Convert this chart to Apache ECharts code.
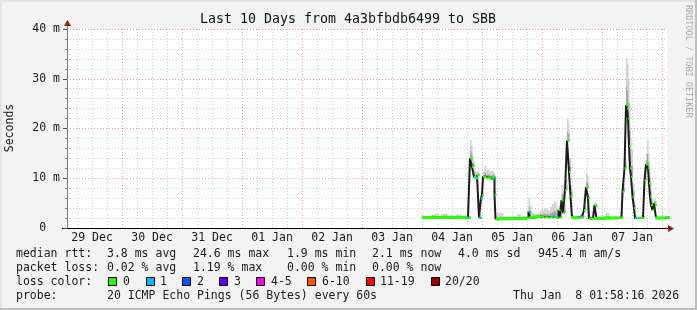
<!DOCTYPE html>
<html><head><meta charset="utf-8">
<script src="https://cdn.jsdelivr.net/npm/echarts@6/dist/echarts.min.js"></script>
<style>html,body{margin:0;padding:0;background:#f3f3f3;overflow:hidden}#c{width:697px;height:310px}</style>
</head><body><div id="c"></div>
<script>
// ---------- data ----------
const chartTitle = 'Last 10 Days from 4a3bfbdb6499 to SBB';
const yAxisName = 'Seconds';
const watermark = 'RRDTOOL / TOBI OETIKER';
const dayLabels = ['29 Dec','30 Dec','31 Dec','01 Jan','02 Jan','03 Jan','04 Jan','05 Jan','06 Jan','07 Jan'];
const windowStart = 1.9711;   // hours after 29 Dec 00:00 (01:58:16)
const windowHours = 240;      // 10 days
const yMax = 40;              // ms

// sample times (hours after 29 Dec 00:00)
const times = [
 144.37,145.57,146.77,147.97,149.17,150.37,151.57,152.77,153.97,155.17,156.37,157.57,158.77,159.97,161.17,162.37,162.77,
 163.17,163.57,163.97,164.37,164.77,165.17,165.57,165.97,166.37,166.77,167.17,167.57,167.97,168.37,168.97,169.57,170.17,170.77,171.37,171.97,172.57,172.97,173.37,
 173.97,175.17,176.37,177.57,178.77,179.97,181.17,181.97,183.17,184.37,185.57,186.17,186.57,186.97,187.57,188.77,189.97,
 191.17,191.97,192.77,193.57,194.37,195.17,195.97,196.77,197.57,198.17,198.57,199.17,199.77,200.37,201.17,201.97,202.37,202.77,203.37,203.97,
 205.17,206.37,207.17,207.97,208.77,209.57,209.97,210.37,210.77,211.57,212.37,212.97,213.37,213.77,
 215.17,216.37,217.57,218.77,219.97,221.17,222.37,223.17,223.77,224.17,224.97,225.57,225.97,226.37,226.77,227.17,227.57,228.17,228.77,229.17,
 229.97,230.77,231.57,232.37,232.97,233.57,233.97,234.37,234.77,235.17,235.57,236.17,236.77,237.17,237.57,238.77,239.97,241.17,241.97
];
// median rtt (ms)
const median = [
 2.1,2.1,2.1,2.2,2.1,2.1,2.1,2.2,2.1,2.1,2.1,2.1,2.2,2.1,2.1,2.0,2.1,
 14.0,14.0,12.3,12.5,10.3,10.0,10.0,10.6,10.6,2.1,2.0,6.0,6.6,10.3,10.3,10.0,10.2,10.0,9.9,10.2,10.3,6.6,1.8,
 1.8,1.8,1.9,1.9,1.9,1.9,1.9,1.9,1.9,1.9,2.0,2.0,3.3,2.3,2.1,2.2,2.3,
 2.3,2.2,2.1,2.2,2.1,2.2,2.1,2.2,2.2,2.0,3.6,2.1,5.6,3.0,7.6,17.6,17.6,11.3,6.4,2.1,
 2.1,2.1,2.2,2.1,3.6,8.2,8.2,6.0,1.9,1.9,1.9,4.6,4.4,1.9,
 1.9,2.0,2.0,2.0,2.0,2.0,2.0,2.1,2.1,7.3,12.0,24.7,24.0,22.0,16.5,12.0,10.3,6.3,4.0,2.0,
 2.0,2.0,2.0,2.0,9.6,12.8,13.0,12.0,9.0,6.3,4.6,3.6,5.0,4.6,2.0,2.0,2.0,2.1,2.1
];
// top of the ping "smoke" (ms)
const smokeHigh = [
 2.3,2.4,2.5,2.6,2.9,2.4,2.8,2.9,2.5,2.6,2.5,2.7,2.5,2.4,2.5,2.4,2.4,
 17.7,16.5,14.5,13.5,12.0,11.5,11.2,11.5,11.3,2.8,2.4,7.0,7.2,11.3,12.5,11.5,11.7,11.3,11.5,11.4,11.0,7.5,2.5,
 3.0,3.0,2.4,2.3,2.3,2.4,2.3,2.8,2.3,2.4,2.4,2.5,6.0,4.5,3.0,2.8,3.0,
 3.5,3.6,4.0,3.8,3.5,4.2,4.8,5.3,4.0,3.0,4.5,3.0,8.6,5.0,10.0,22.0,21.0,14.0,8.5,2.6,
 2.4,2.4,2.8,2.4,4.5,11.0,10.5,7.0,2.4,2.5,2.3,5.2,5.0,2.3,
 2.2,2.3,3.0,2.3,2.3,2.4,2.3,2.5,2.6,9.0,14.0,34.1,33.0,30.0,24.0,18.0,15.7,9.0,5.5,2.5,
 2.3,2.3,2.3,2.3,12.0,15.0,17.7,15.0,12.0,9.0,6.0,4.5,6.0,5.5,2.4,2.3,2.3,2.3,2.3
];
// samples with 1 lost ping
const loss1Times  = [162.25,165.97,167.17,167.85,172.65,187.29,196.09,197.17,207.17,229.57];
const loss1Values = [2.0,10.2,2.0,5.9,9.8,3.2,2.3,2.3,2.2,2.0];

const rttLabel = 'median rtt:';
const rttStats = ['3.8 ms avg','24.6 ms max','1.9 ms min','2.1 ms now','4.0 ms sd','945.4 m am/s'];
const lossLabel = 'packet loss:';
const lossStats = ['0.02 % avg','1.19 % max','0.00 % min','0.00 % now'];
const lossColorLabel = 'loss color:';
const lossLabels = ['0','1','2','3','4-5','6-10','11-19','20/20'];
const lossColors = ['#26ff00','#00b8ff','#0059ff','#5e00ff','#ff00ff','#ff5500','#ff0000','#a10000'];
const probeLabel = 'probe:';
const probeText = '20 ICMP Echo Pings (56 Bytes) every 60s';
const stampText = 'Thu Jan  8 01:58:16 2026';

// ---------- layout / style ----------
const MONO = '"DejaVu Sans Mono", monospace';
const F = 11.5;
const XMIN = windowStart, XMAX = windowStart + windowHours;
const PX_PER_HOUR = 600 / windowHours;
const minorGrid = {color:'#d0d0d0', type:[1,2], width:1};
const majorGrid = {color:'#eaa0a0', type:[1,2], width:1};
const statCols = [107,193,287,372,458,538];
const boxCols = [108,146,182,219,256,307,366,431];
const boxLabelCols = [123,160,197,234,271,322,380,445];
const rowY = [254,268,282,296];

// clock-aligned tick positions (hours after 29 Dec 00:00)
const sixHourTicks = [], midnightTicks = [];
for (let h = Math.ceil(XMIN/6)*6; h < XMAX; h += 6) sixHourTicks.push(h);
for (let h = Math.ceil(XMIN/24)*24; h < XMAX; h += 24) midnightTicks.push(h);
const noonTicks = dayLabels.map((d,i)=>12 + 24*i);

function txt(text, x, y, extra) {
  return Object.assign({type:'text', x:x, y:y, silent:true,
    style:Object.assign({text:text, font:F+'px '+MONO, fill:'#1a1a1a',
      align:'left', textAlign:'left', verticalAlign:'middle', textVerticalAlign:'middle'}, extra && extra.style || {})},
    extra && extra.el || {});
}

const graphics = [];
graphics.push({type:'rect', shape:{x:0,y:0,width:697,height:2}, style:{fill:'#e4e4e4'}, silent:true});
graphics.push({type:'rect', shape:{x:0,y:0,width:2,height:310}, style:{fill:'#e4e4e4'}, silent:true});
graphics.push({type:'rect', shape:{x:0,y:308,width:697,height:2}, style:{fill:'#bdbdbd'}, silent:true});
graphics.push({type:'rect', shape:{x:695,y:0,width:2,height:310}, style:{fill:'#bdbdbd'}, silent:true});
graphics.push({type:'line', shape:{x1:67.5,y1:25,x2:67.5,y2:29}, style:{stroke:'#7a7a7a', lineWidth:1}, silent:true});
graphics.push({type:'polygon', shape:{points:[[64,26],[71,26],[67.5,20]]}, style:{fill:'#8e1e1e'}, silent:true});
graphics.push({type:'line', shape:{x1:62,y1:228.5,x2:669,y2:228.5}, style:{stroke:'#000', lineWidth:1}, silent:true});
graphics.push({type:'polygon', shape:{points:[[668,225],[668,232],[674,228.5]]}, style:{fill:'#8e1e1e'}, silent:true});
graphics.push(txt(chartTitle, 348, 19.5, {style:{font:'13.3px '+MONO, align:'center', textAlign:'center', fill:'#111'}}));
graphics.push(txt(yAxisName, 10, 128, {style:{align:'center', textAlign:'center'}, el:{rotation:Math.PI/2}}));
graphics.push(txt(watermark, 688.5, 5, {style:{font:'8.5px '+MONO, fill:'#a8a8a8'}, el:{rotation:-Math.PI/2}}));
graphics.push(txt(rttLabel, 16, rowY[0]));
rttStats.forEach((s,i)=>graphics.push(txt(s, statCols[i], rowY[0])));
graphics.push(txt(lossLabel, 16, rowY[1]));
lossStats.forEach((s,i)=>graphics.push(txt(s, statCols[i], rowY[1])));
graphics.push(txt(lossColorLabel, 16, rowY[2]));
lossLabels.forEach((s,i)=>{
  graphics.push({type:'rect', shape:{x:boxCols[i]+0.5, y:rowY[2]-4.5, width:8, height:8}, style:{fill:lossColors[i], stroke:'#000', lineWidth:1}, silent:true});
  graphics.push(txt(s, boxLabelCols[i], rowY[2]));
});
graphics.push(txt(probeLabel, 16, rowY[3]));
graphics.push(txt(probeText, statCols[0], rowY[3]));
graphics.push(txt(stampText, 513, rowY[3]));

const medPts = times.map((t,i)=>[t, median[i]]);
const smokeCells = times.slice(0,-1).map((t,i)=>[t, times[i+1], median[i], smokeHigh[i]]);
const loss1Pts = loss1Times.map((t,i)=>[t, loss1Values[i]]);

function renderSmoke(params, api) {
  const t0 = api.value(0), t1 = api.value(1), lo = api.value(2), hi = api.value(3);
  const a = api.coord([t0, hi]), b = api.coord([t1, lo]);
  const m = api.coord([t0, lo + (hi - lo) * 0.4]);
  const w = b[0] - a[0] + 0.6;
  return {type:'group', children:[
    {type:'rect', shape:{x:a[0], y:a[1], width:w, height:m[1]-a[1]}, style:{fill:'#d3d3d3'}},
    {type:'rect', shape:{x:a[0], y:m[1], width:w, height:b[1]-m[1]}, style:{fill:'#a6a6a6'}}
  ]};
}
// green median marks: as wide as the gap to the next sample
function medSymbolSize(val, params) {
  const i = params.dataIndex;
  const gap = i < times.length - 1 ? (times[i+1] - times[i]) * PX_PER_HOUR : 3;
  return gap >= 2.5 ? [gap + 1, 3] : [2, 2];
}

const baseX = {type:'value', min:XMIN, max:XMAX, position:'bottom'};
const option = {
  backgroundColor:'#f3f3f3',
  animation:false,
  grid:{left:67, top:29, width:600, height:199, show:true, backgroundColor:'#ffffff', borderWidth:0, containLabel:false, outerBoundsMode:'none'},
  xAxis:[
    Object.assign({}, baseX, {z:3,
      axisLine:{show:false, onZero:false}, axisTick:{show:false, customValues:noonTicks}, splitLine:{show:false},
      axisLabel:{show:true, customValues:noonTicks, margin:4, color:'#1a1a1a', fontFamily:MONO, fontSize:F,
        formatter:function(v){ const k = Math.round((v-12)/24); return dayLabels[k] || ''; }}}),
    Object.assign({}, baseX, {z:0, axisLine:{show:false, onZero:false}, axisLabel:{show:false},
      axisTick:{show:false, customValues:sixHourTicks}, splitLine:{show:true, lineStyle:minorGrid}}),
    Object.assign({}, baseX, {z:1, axisLine:{show:false, onZero:false}, axisLabel:{show:false},
      axisTick:{show:false, customValues:midnightTicks}, splitLine:{show:true, lineStyle:majorGrid}})
  ],
  yAxis:{type:'value', min:0, max:yMax, interval:10,
    axisLine:{show:true, onZero:false, lineStyle:{color:'#7a7a7a'}},
    axisTick:{show:true, length:4, lineStyle:{color:'#555'}},
    minorTick:{show:true, splitNumber:5, length:2, lineStyle:{color:'#888'}},
    splitLine:{show:true, showMinLine:false, lineStyle:majorGrid},
    minorSplitLine:{show:true, lineStyle:minorGrid},
    axisLabel:{margin:7, color:'#1a1a1a', fontFamily:MONO, fontSize:F, formatter:function(v){ return v===0 ? '0  ' : v+' m'; }}},
  series:[
    {name:'smoke', type:'custom', xAxisIndex:0, data:smokeCells, encode:{x:[0,1], y:[2,3]}, renderItem:renderSmoke, silent:true, z:2},
    {name:'median', type:'line', xAxisIndex:0, data:medPts, step:'end', symbol:'none', silent:true, z:3,
     lineStyle:{color:'#1c1c1c', width:2}},
    {name:'loss 0', type:'scatter', xAxisIndex:0, data:medPts, symbol:'rect', symbolSize:medSymbolSize, symbolOffset:[1,0], silent:true, z:4,
     itemStyle:{color:lossColors[0], opacity:1}},
    {name:'loss 1', type:'scatter', xAxisIndex:0, data:loss1Pts, symbol:'rect', symbolSize:[2,2], silent:true, z:5,
     itemStyle:{color:lossColors[1], opacity:1}}
  ],
  graphic:{elements:graphics}
};
const chart = echarts.init(document.getElementById('c'), null, {renderer:'canvas'});
chart.setOption(option);
</script></body></html>
